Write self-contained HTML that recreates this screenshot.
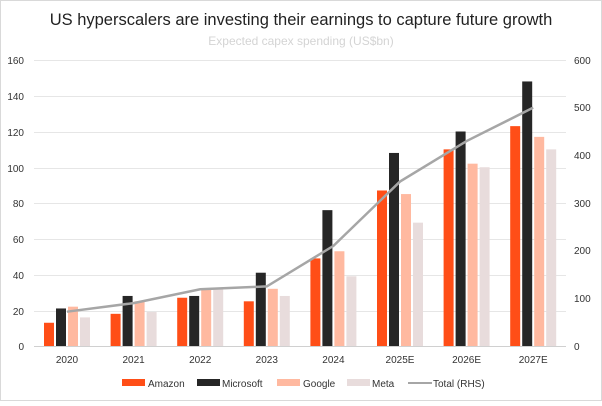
<!DOCTYPE html><html><head><style>body{margin:0;background:#fff}svg text{font-family:"Liberation Sans",sans-serif}</style></head><body>
<svg width="602" height="401" viewBox="0 0 602 401" xmlns="http://www.w3.org/2000/svg">
<rect x="0.5" y="0.5" width="601" height="400" fill="#fff" stroke="#d9d9d9"/>
<text x="301" y="25" font-size="16.5" text-anchor="middle" fill="#222">US hyperscalers are investing their earnings to capture future growth</text>
<text x="301" y="45" font-size="12" text-anchor="middle" fill="#d4d4d4">Expected capex spending (US$bn)</text>
<g stroke="#e6e6e6" stroke-width="1">
<line x1="34" x2="566" y1="60.5" y2="60.5"/><line x1="34" x2="566" y1="96.5" y2="96.5"/><line x1="34" x2="566" y1="132.5" y2="132.5"/><line x1="34" x2="566" y1="168.5" y2="168.5"/><line x1="34" x2="566" y1="203.5" y2="203.5"/><line x1="34" x2="566" y1="239.5" y2="239.5"/><line x1="34" x2="566" y1="275.5" y2="275.5"/><line x1="34" x2="566" y1="311.5" y2="311.5"/></g>
<line x1="34" x2="566" y1="346.5" y2="346.5" stroke="#d0d0d0"/>
<g font-size="10" fill="#333" text-anchor="end">
<text x="24" y="350">0</text><text x="24" y="315">20</text><text x="24" y="279">40</text><text x="24" y="243">60</text><text x="24" y="207">80</text><text x="24" y="172">100</text><text x="24" y="136">120</text><text x="24" y="100">140</text><text x="24" y="64">160</text></g>
<g font-size="10" fill="#333" text-anchor="start">
<text x="574" y="350">0</text><text x="574" y="302">100</text><text x="574" y="254">200</text><text x="574" y="207">300</text><text x="574" y="159">400</text><text x="574" y="111">500</text><text x="574" y="64">600</text></g>
<g id="bars"></g>
<g font-size="10" fill="#333" text-anchor="middle" id="xl"></g>
<polyline id="tot" fill="none" stroke="#a6a6a6" stroke-width="2.5"/>
<g font-size="10" fill="#333">
<rect x="122" y="379" width="23" height="7" fill="#ff4e17"/><text x="148" y="387">Amazon</text>
<rect x="197" y="379" width="23" height="7" fill="#262626"/><text x="222" y="387">Microsoft</text>
<rect x="277" y="379" width="23" height="7" fill="#ffb9a0"/><text x="303" y="387">Google</text>
<rect x="347" y="379" width="23" height="7" fill="#e8dcdc"/><text x="372" y="387">Meta</text>
<line x1="408" x2="432" y1="383" y2="383" stroke="#a6a6a6" stroke-width="2"/><text x="433" y="387">Total (RHS)</text></g>
<script>
var d=[[13,18,27,25,49,87,110,123],[21,28,28,41,76,108,120,148],[22,25,32,32,53,85,102,117],[16,19,32,28,39,69,100,110]];
var c=["#ff4e17","#262626","#ffb9a0","#e8dcdc"],tot=[72,90,119,125,210,345,430,500],lab=["2020","2021","2022","2023","2024","2025E","2026E","2027E"];
var ns="http://www.w3.org/2000/svg",b=document.getElementById("bars"),xl=document.getElementById("xl"),pts=[];
function Y(v){return 346-v*286/160}
for(var i=0;i<8;i++){var cx=67+i*66.6;
for(var s=0;s<4;s++){var r=document.createElementNS(ns,"rect");var x=cx-23+s*12;r.setAttribute("x",x);r.setAttribute("width",10);r.setAttribute("y",Y(d[s][i]));r.setAttribute("height",346-Y(d[s][i]));r.setAttribute("fill",c[s]);b.appendChild(r);}
var t=document.createElementNS(ns,"text");t.setAttribute("x",cx);t.setAttribute("y",363);t.textContent=lab[i];xl.appendChild(t);
pts.push(cx+","+(346-tot[i]*286/600));}
document.getElementById("tot").setAttribute("points",pts.join(" "));
</script>
</svg></body></html>
